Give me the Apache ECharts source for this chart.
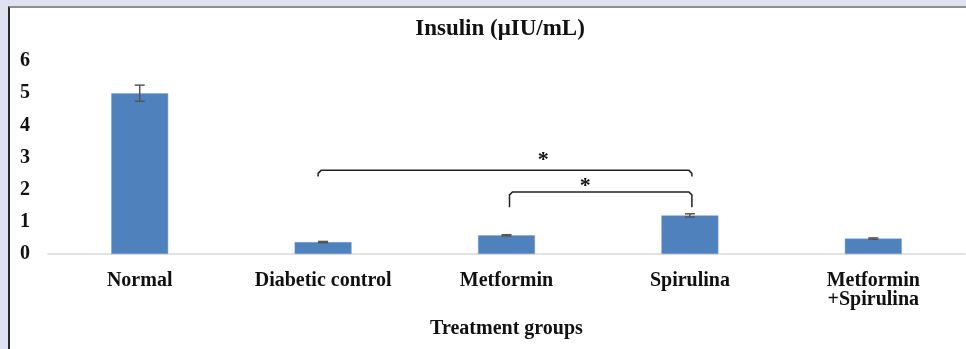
<!DOCTYPE html>
<html><head><meta charset="utf-8">
<script src="https://cdn.jsdelivr.net/npm/echarts@6/dist/echarts.min.js"></script>
<style>
html,body{margin:0;padding:0;background:#dfe3f1;width:966px;height:349px;overflow:hidden;}
#frame{position:absolute;left:8px;top:6px;width:958px;height:343px;background:#fff;border-top:2px solid #8e8e8e;border-left:2px solid #2a2a2a;box-sizing:border-box;}
#chart{position:absolute;left:0;top:0;width:966px;height:349px;}
</style></head>
<body><div id="frame"></div><div id="chart"></div>
<script>
const categories = ['Normal', 'Diabetic control', 'Metformin', 'Spirulina', 'Metformin\n+Spirulina'];
const insulinValues = [5.0, 0.37, 0.58, 1.2, 0.48];
const insulinErrors = [0.25, 0.02, 0.02, 0.05, 0.02];
const yTicks = [0, 1, 2, 3, 4, 5, 6];
// brackets: from category, to category, bar level, leg bottom, star level, star position (in category units)
const bracketFrom = [1, 2];
const bracketTo = [3, 3];
const bracketLevel = [2.6, 1.93];
const bracketLegBottom = [2.41, 1.45];
const starLevel = [3.0, 2.2];
const starPos = [2.2, 2.43];

const chart = echarts.init(document.getElementById('chart'), null, {renderer: 'canvas'});
const serif = '"Liberation Serif","Times New Roman",serif';
const errData = insulinValues.map((v, i) => [i, v - insulinErrors[i], v + insulinErrors[i]]);
const bracketData = bracketFrom.map((f, i) => [f, bracketTo[i], bracketLevel[i], bracketLegBottom[i], starLevel[i], starPos[i]]);
chart.setOption({
  backgroundColor: 'transparent',
  animation: false,
  title: {
    text: 'Insulin (μIU/mL)', left: 495, top: 13, textAlign: 'center',
    textStyle: {fontFamily: serif, fontWeight: 'bold', fontSize: 23, color: '#111'}
  },
  grid: {left: 48, right: 1, top: 61, bottom: 95, containLabel: false},
  xAxis: {
    type: 'category', data: categories,
    axisLine: {lineStyle: {color: '#d9d9d9', width: 1.5}},
    axisTick: {show: false},
    axisLabel: {fontFamily: serif, fontWeight: 'bold', fontSize: 20, color: '#111', margin: 17, lineHeight: 19, interval: 0},
    name: 'Treatment groups', nameLocation: 'middle', nameGap: 65,
    nameTextStyle: {fontFamily: serif, fontWeight: 'bold', fontSize: 20, color: '#111'}
  },
  yAxis: {
    type: 'value', min: yTicks[0], max: yTicks[yTicks.length - 1], interval: 1,
    axisLine: {show: false}, axisTick: {show: false}, splitLine: {show: false},
    axisLabel: {fontFamily: serif, fontWeight: 'bold', fontSize: 20, color: '#111', margin: 18}
  },
  series: [
    {
      type: 'bar', data: insulinValues, barWidth: 57,
      itemStyle: {color: '#4f81bd', borderColor: '#7ea3d4', borderWidth: 0.5}
    },
    {
      type: 'custom', data: errData, z: 5,
      renderItem: function (params, api) {
        const x = api.value(0);
        const lo = api.coord([x, api.value(1)]);
        const hi = api.coord([x, api.value(2)]);
        const hw = 5;
        const st = {stroke: '#555', lineWidth: 1.5};
        return {type: 'group', children: [
          {type: 'line', shape: {x1: lo[0], y1: lo[1], x2: hi[0], y2: hi[1]}, style: st},
          {type: 'line', shape: {x1: lo[0] - hw, y1: lo[1], x2: lo[0] + hw, y2: lo[1]}, style: st},
          {type: 'line', shape: {x1: hi[0] - hw, y1: hi[1], x2: hi[0] + hw, y2: hi[1]}, style: st}
        ]};
      }
    },
    {
      type: 'custom', data: bracketData, z: 6,
      renderItem: function (params, api) {
        const f = api.value(0), t = api.value(1);
        const a = api.coord([f, api.value(2)]);
        const b = api.coord([t, api.value(2)]);
        const aBot = api.coord([f, api.value(3)]);
        const sy = api.coord([f, api.value(4)])[1];
        const sx = a[0] + (api.value(5) - f) / (t - f) * (b[0] - a[0]);
        const off = params.dataIndex === 0 ? -5 : 3;
        const x1 = a[0] + off, x2 = b[0] + 2;
        return {type: 'group', children: [
          {type: 'polyline', shape: {points: [[x1, aBot[1]], [x1, a[1] + 3], [x1 + 3, a[1]], [x2 - 3, a[1]], [x2, a[1] + 3], [x2, aBot[1]]]},
            style: {stroke: '#222', lineWidth: 1.5, fill: null}},
          {type: 'text', style: {text: '*', x: sx, y: sy + 3, textAlign: 'center', textVerticalAlign: 'middle',
            font: 'bold 22px ' + serif, fill: '#111'}}
        ]};
      }
    }
  ]
});
</script></body></html>
